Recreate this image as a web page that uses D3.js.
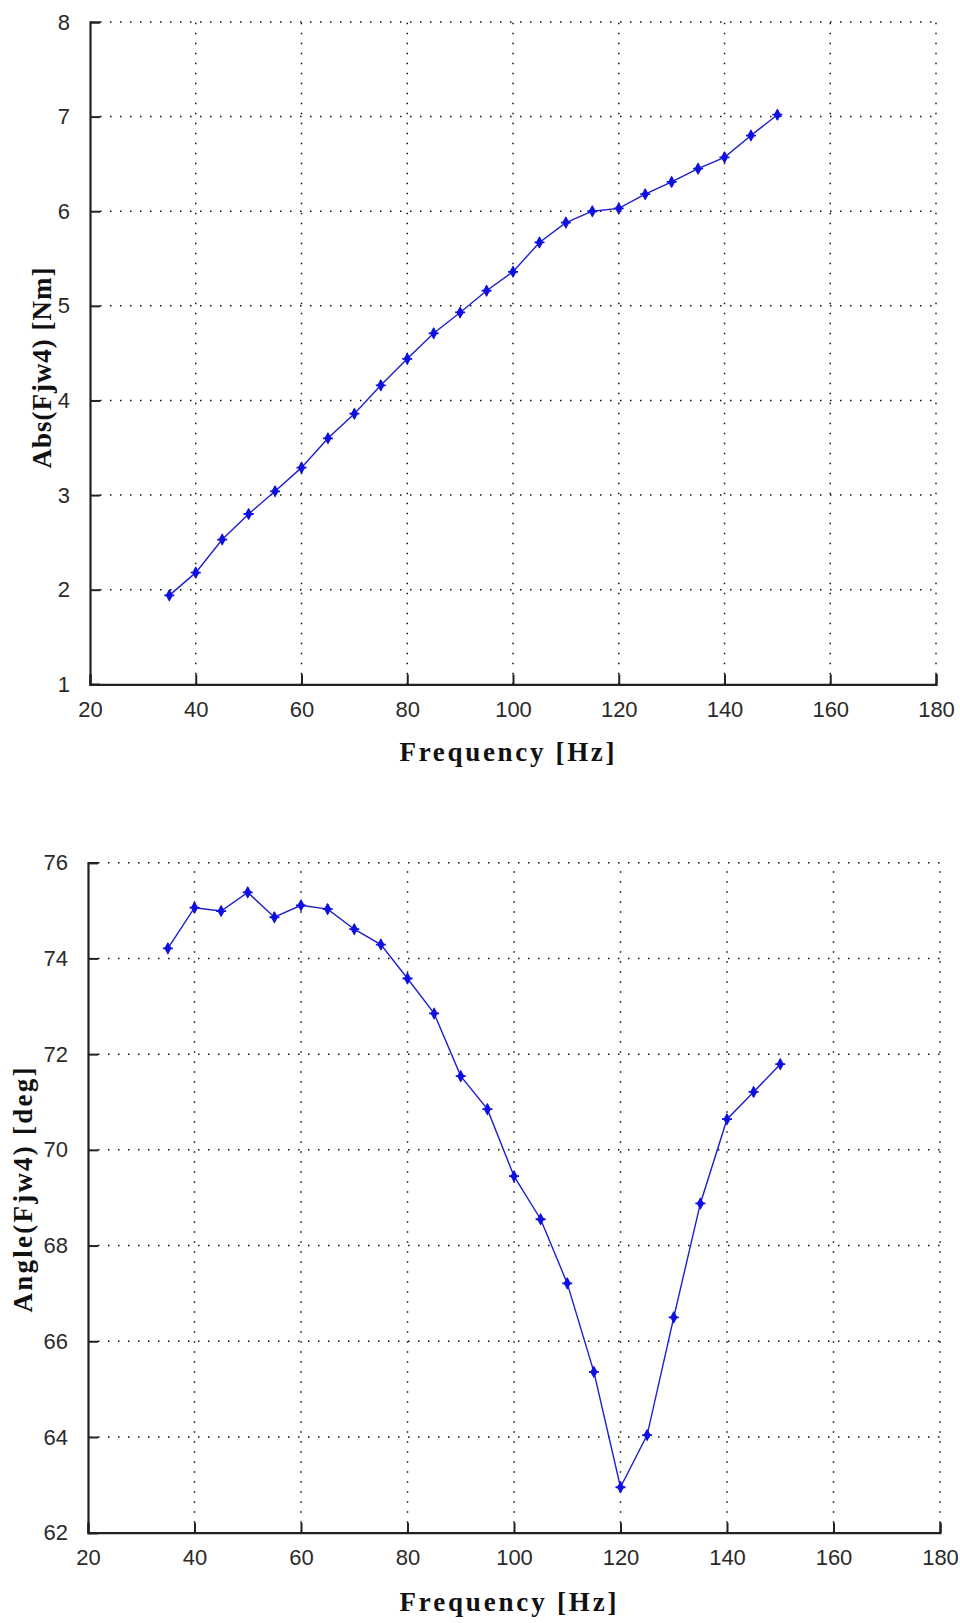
<!DOCTYPE html>
<html><head><meta charset="utf-8">
<script src="https://cdn.jsdelivr.net/npm/d3@7"></script>
<style>body{margin:0;background:#fff}</style>
</head><body><svg id="c" width="960" height="1623" xmlns="http://www.w3.org/2000/svg"></svg>
<script>
const freq = [35,40,45,50,55,60,65,70,75,80,85,90,95,100,105,110,115,120,125,130,135,140,145,150];
const absVals = [1.94,2.18,2.53,2.80,3.04,3.29,3.60,3.86,4.16,4.44,4.71,4.93,5.16,5.36,5.67,5.88,6.00,6.03,6.18,6.31,6.45,6.57,6.80,7.02];
const angleVals = [74.21,75.06,74.99,75.38,74.86,75.11,75.03,74.61,74.29,73.58,72.85,71.54,70.85,69.45,68.55,67.21,65.36,62.95,64.04,66.50,68.88,70.64,71.21,71.79];
const xTicks = [20,40,60,80,100,120,140,160,180];
const absTicks = [1,2,3,4,5,6,7,8];
const angleTicks = [62,64,66,68,70,72,74,76];
const xLabel = "Frequency [Hz]";
const absLabel = "Abs(Fjw4) [Nm]";
const angleLabel = "Angle(Fjw4) [deg]";

const svg = d3.select("#c");
svg.append("rect").attr("width",960).attr("height",1623).attr("fill","#fff");

function panel(cfg){
  const x = d3.scaleLinear().domain([20,180]).range([cfg.x0,cfg.x1]);
  const y = d3.scaleLinear().domain(cfg.yDomain).range([cfg.y0,cfg.y1]);
  const g = svg.append("g");
  // grid
  const grid = g.append("g").attr("stroke","#111").attr("stroke-width",1.5)
    .attr("stroke-dasharray","1.5,8.5").attr("fill","none");
  xTicks.slice(1).forEach(t=>{
    grid.append("line").attr("x1",x(t)).attr("x2",x(t)).attr("y1",cfg.y0).attr("y2",cfg.y1);
  });
  cfg.ticks.slice(1).forEach(t=>{
    grid.append("line").attr("x1",cfg.x0).attr("x2",cfg.x1).attr("y1",y(t)).attr("y2",y(t));
  });
  // axes
  const xa = g.append("g").attr("transform",`translate(0,${cfg.y0})`)
    .call(d3.axisBottom(x).tickValues(xTicks).tickSize(-10).tickPadding(14).tickFormat(d3.format("d")));
  const ya = g.append("g").attr("transform",`translate(${cfg.x0},0)`)
    .call(d3.axisLeft(y).tickValues(cfg.ticks).tickSize(-10).tickPadding(20).tickFormat(d3.format("d")));
  [xa,ya].forEach(a=>{
    a.select(".domain").attr("stroke","#222").attr("stroke-width",2.2);
    a.selectAll(".tick line").attr("stroke","#222").attr("stroke-width",2);
    a.selectAll(".tick text").attr("font-family","Liberation Sans, Arial, sans-serif")
      .attr("font-size",22).attr("fill","#2a2a2a");
  });
  xa.selectAll(".tick text").attr("dy","0.85em");
  // line
  const line = d3.line().x((d,i)=>x(freq[i])).y(d=>y(d));
  g.append("path").datum(cfg.vals).attr("d",line).attr("fill","none")
    .attr("stroke","#1e1ed0").attr("stroke-width",1.4);
  const mk = g.append("g");
  cfg.vals.forEach((v,i)=>{
    const cx = x(freq[i]), cy = y(v);
    mk.append("path").attr("d",d3.symbol().type(d3.symbolDiamond).size(46)())
      .attr("transform",`translate(${cx},${cy})`).attr("fill","#1010e0");
    mk.append("path").attr("d",`M${cx-5},${cy}H${cx+5}M${cx},${cy-5}V${cy+5}`)
      .attr("stroke","#1010e0").attr("stroke-width",1.8);
  });
  // labels
  g.append("text").attr("x",cfg.xlx).attr("y",cfg.xly).attr("text-anchor","middle")
    .attr("font-family","Liberation Serif, Times New Roman, serif").attr("font-weight","bold")
    .attr("font-size",27).attr("fill","#111")
    .attr("textLength",cfg.xlLen).attr("lengthAdjust","spacing").text(xLabel);
  g.append("text").attr("transform",`translate(${cfg.ylx},${cfg.yly}) rotate(-90)`)
    .attr("text-anchor","middle")
    .attr("font-family","Liberation Serif, Times New Roman, serif").attr("font-weight","bold")
    .attr("font-size",27).attr("fill","#111")
    .attr("textLength",cfg.ylLen).attr("lengthAdjust","spacing").text(cfg.yLabel);
}

panel({x0:90,x1:936,y0:684.3,y1:22,yDomain:[1,8],ticks:absTicks,vals:absVals,
  xlx:507,xly:761,xlLen:215,ylx:51,yly:368,ylLen:201,yLabel:absLabel});
panel({x0:88,x1:940,y0:1532.7,y1:862.7,yDomain:[62,76],ticks:angleTicks,vals:angleVals,
  xlx:508,xly:1611,xlLen:217,ylx:32,yly:1190,ylLen:245,yLabel:angleLabel});
</script></body></html>
